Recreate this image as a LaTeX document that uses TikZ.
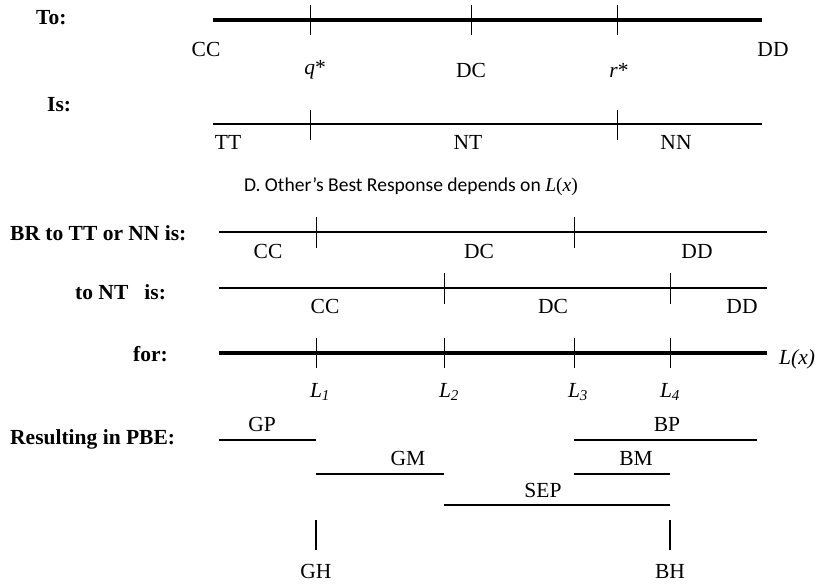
\documentclass[tikz,border=0pt]{standalone}
\usepackage{fontspec}
\setmainfont{Liberation Serif}
\setsansfont{Carlito}

\begin{document}
\begin{tikzpicture}[x=1pt,y=1pt]
\tikzstyle{every node}+=[inner sep=0pt,font=\fontsize{21.5}{23}\selectfont]
\tikzstyle{rowlabel}=[anchor=west,font=\bfseries\fontsize{21.5}{23}\selectfont]
\tikzstyle{heavy}=[line width=3.8pt]
\tikzstyle{thin}=[line width=1.3pt]
\tikzstyle{tick}=[line width=0.9pt]
\tikzstyle{pbe}=[line width=2.8pt]
\useasboundingbox (0,0) rectangle (815,-586);
% row labels
\node [rowlabel] (to) at (36,-18) {To:};
\node [rowlabel] (is) at (47,-105) {Is:};
\node [rowlabel] (brtn) at (10,-233) {BR to TT or NN is:};
\node [rowlabel] (brnt) at (75,-292) {to NT\ \ \ is:};
\node [rowlabel] (for) at (133,-354) {for:};
\node [rowlabel] (res) at (10,-439) {Resulting in PBE:};
% To:
\draw [heavy] (213,-20) -- (762,-20);
\foreach \x in {310,471,617}
  \draw [tick] (\x,-5) -- (\x,-35);
\node (cc) at (206,-49) {CC};
\node (dd) at (773,-49) {DD};
\node (q) at (315,-70) {\textit{q}*};
\node (dc) at (471,-70) {DC};
\node (r) at (619,-70) {\textit{r}*};
% Is:
\draw [thin] (213,-124) -- (762,-124);
\foreach \x in {310,617}
  \draw [tick] (\x,-110) -- (\x,-140);
\node (tt) at (228,-142) {TT};
\node (nt) at (468,-142) {NT};
\node (nn) at (676,-142) {NN};
% title
\node (title) at (411,-187) {\sffamily\fontsize{19.6}{21}\selectfont D. Other's Best Response depends on \rmfamily\textit{L}(\textit{x})};
% BR to TT or NN
\draw [thin] (219,-232) -- (767,-232);
\foreach \x in {316,574}
  \draw [tick] (\x,-217) -- (\x,-248);
\node (cc1) at (268,-251) {CC};
\node (dc1) at (479,-251) {DC};
\node (dd1) at (697,-251) {DD};
% to NT
\draw [thin] (219,-288) -- (767,-288);
\foreach \x in {444,670}
  \draw [tick] (\x,-273) -- (\x,-304);
\node (cc2) at (325,-306) {CC};
\node (dc2) at (553,-306) {DC};
\node (dd2) at (742,-306) {DD};
% for
\draw [heavy] (219,-353) -- (767,-353);
\foreach \x in {316,444,574,670}
  \draw [tick] (\x,-338) -- (\x,-368);
\node [anchor=west] (lx) at (779,-359) {\textit{L(x)}};
\node (l1) at (320,-392) {\textit{L}\textsubscript{\textit{1}}};
\node (l2) at (449,-392) {\textit{L}\textsubscript{\textit{2}}};
\node (l3) at (578,-392) {\textit{L}\textsubscript{\textit{3}}};
\node (l4) at (670,-392) {\textit{L}\textsubscript{\textit{4}}};
% PBE
\draw [pbe] (219,-440) -- (316,-440);
\node (gp) at (262,-424) {GP};
\draw [pbe] (574,-440) -- (757,-440);
\node (bp) at (667,-424) {BP};
\draw [pbe] (316,-474) -- (444,-474);
\node (gm) at (408,-458) {GM};
\draw [pbe] (574,-474) -- (670,-474);
\node (bm) at (636,-458) {BM};
\draw [pbe] (444,-505) -- (670,-505);
\node (sep) at (543,-490) {SEP};
\draw [pbe] (316,-520) -- (316,-550);
\node (gh) at (316,-571) {GH};
\draw [pbe] (670,-520) -- (670,-550);
\node (bh) at (670,-571) {BH};
\end{tikzpicture}
\end{document}
